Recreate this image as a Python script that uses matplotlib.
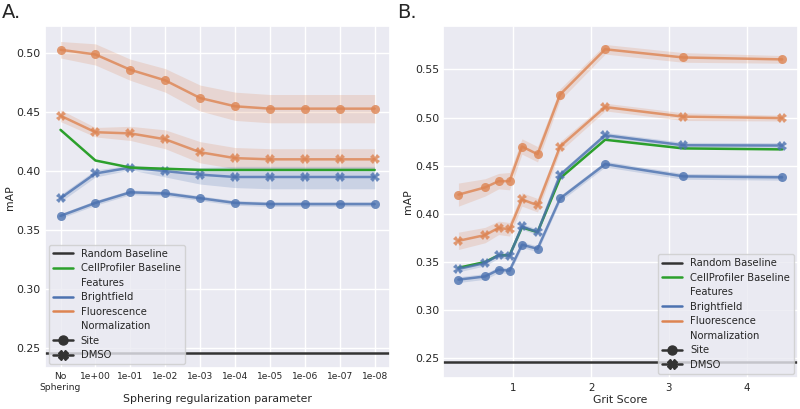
import numpy as np
import matplotlib
matplotlib.use("Agg")
import matplotlib.pyplot as plt
from matplotlib.lines import Line2D
import seaborn as sns

sns.set_theme(style="darkgrid")
plt.rcParams['font.family'] = ['DejaVu Sans']
plt.rcParams['font.size'] = 7

BLUE = "#4C72B0"
ORANGE = "#DD8452"
GREEN = "#2ca02c"
DARK = "#333333"

RANDOM_BASELINE = 0.2458

# --- panel A: sphering regularization ---
sph_labels = ["No\nSphering", "1e+00", "1e-01", "1e-02", "1e-03",
              "1e-04", "1e-05", "1e-06", "1e-07", "1e-08"]
sph_x = np.arange(len(sph_labels))

a_fluo_site = [0.503, 0.499, 0.486, 0.477, 0.462, 0.455, 0.453, 0.453, 0.453, 0.453]
a_fluo_site_ci = [0.007, 0.009, 0.009, 0.010, 0.011, 0.012, 0.012, 0.012, 0.012, 0.012]
a_fluo_dmso = [0.447, 0.433, 0.432, 0.427, 0.416, 0.411, 0.410, 0.410, 0.410, 0.410]
a_fluo_dmso_ci = [0.005, 0.004, 0.006, 0.008, 0.009, 0.009, 0.009, 0.009, 0.009, 0.009]
a_cp = [0.435, 0.409, 0.403, 0.402, 0.401, 0.401, 0.401, 0.401, 0.401, 0.401]
a_bf_dmso = [0.377, 0.398, 0.403, 0.400, 0.397, 0.395, 0.395, 0.395, 0.395, 0.395]
a_bf_dmso_lo = [0.374, 0.395, 0.401, 0.395, 0.389, 0.386, 0.385, 0.385, 0.385, 0.385]
a_bf_dmso_hi = [0.380, 0.401, 0.405, 0.403, 0.403, 0.404, 0.404, 0.404, 0.404, 0.404]
a_bf_site = [0.362, 0.373, 0.382, 0.381, 0.377, 0.373, 0.372, 0.372, 0.372, 0.372]
a_bf_site_ci = [0.002, 0.002, 0.002, 0.002, 0.002, 0.002, 0.002, 0.002, 0.002, 0.002]

# --- panel B: grit score ---
grit = [0.293, 0.636, 0.81, 0.95, 1.11, 1.31, 1.60, 2.18, 3.185, 4.457]

b_fluo_site = [0.420, 0.4275, 0.434, 0.434, 0.470, 0.462, 0.524, 0.571, 0.5625, 0.5605]
b_fluo_site_ci = [0.012, 0.009, 0.008, 0.009, 0.008, 0.008, 0.006, 0.005, 0.005, 0.004]
b_fluo_dmso = [0.372, 0.378, 0.3855, 0.384, 0.415, 0.409, 0.470, 0.511, 0.501, 0.4995]
b_fluo_dmso_ci = [0.009, 0.008, 0.007, 0.007, 0.007, 0.007, 0.005, 0.004, 0.004, 0.003]
b_cp = [0.344, 0.350, 0.357, 0.357, 0.386, 0.381, 0.437, 0.477, 0.468, 0.467]
b_bf_dmso = [0.3428, 0.349, 0.357, 0.3565, 0.387, 0.381, 0.4405, 0.4817, 0.4713, 0.471]
b_bf_dmso_ci = [0.003, 0.003, 0.003, 0.003, 0.003, 0.003, 0.003, 0.003, 0.003, 0.003]
b_bf_site = [0.3317, 0.335, 0.342, 0.341, 0.368, 0.3637, 0.416, 0.4517, 0.439, 0.438]
b_bf_site_ci = [0.003, 0.003, 0.003, 0.003, 0.003, 0.003, 0.003, 0.003, 0.003, 0.003]

LW = 1.8


def draw_series(ax, x, y, lo, hi, color, marker):
    ax.fill_between(x, lo, hi, color=color, alpha=0.2, linewidth=0)
    ax.plot(x, y, color=color, alpha=0.8, lw=LW, marker=marker,
            markersize=6.5 if marker == "o" else 7, markeredgewidth=0)


def sym(y, ci):
    y = np.array(y)
    ci = np.array(ci)
    return y - ci, y + ci


def add_legend(ax, loc):
    blank = Line2D([], [], color="none")
    handles = [
        Line2D([], [], color=DARK, lw=LW),
        Line2D([], [], color=GREEN, lw=LW),
        blank,
        Line2D([], [], color=BLUE, lw=LW),
        Line2D([], [], color=ORANGE, lw=LW),
        blank,
        Line2D([], [], color=DARK, lw=LW, marker="o", markersize=6.5),
        Line2D([], [], color=DARK, lw=LW, marker="X", markersize=7),
    ]
    labels = ["Random Baseline", "CellProfiler Baseline", "Features",
              "Brightfield", "Fluorescence", "Normalization", "Site", "DMSO"]
    ax.legend(handles, labels, loc=loc, fontsize=7.2, labelspacing=0.45,
              borderaxespad=0.4)


fig = plt.figure(figsize=(8, 4.09), dpi=100)
axA = fig.add_axes([0.056, 0.100, 0.432, 0.836])
axB = fig.add_axes([0.554, 0.076, 0.4435, 0.860])

# panel A
lo, hi = sym(a_fluo_site, a_fluo_site_ci)
draw_series(axA, sph_x, a_fluo_site, lo, hi, ORANGE, "o")
lo, hi = sym(a_fluo_dmso, a_fluo_dmso_ci)
draw_series(axA, sph_x, a_fluo_dmso, lo, hi, ORANGE, "X")
draw_series(axA, sph_x, a_bf_dmso, a_bf_dmso_lo, a_bf_dmso_hi, BLUE, "X")
lo, hi = sym(a_bf_site, a_bf_site_ci)
draw_series(axA, sph_x, a_bf_site, lo, hi, BLUE, "o")
axA.plot(sph_x, a_cp, color=GREEN, lw=LW)
axA.axhline(RANDOM_BASELINE, color=DARK, lw=LW)
axA.set_xticks(sph_x)
axA.set_xticklabels(sph_labels, linespacing=1.2)
axA.set_xlabel("Sphering regularization parameter", fontsize=7.8, labelpad=2)
axA.set_ylabel("mAP", fontsize=7.8, labelpad=1)
axA.set_yticks([0.25, 0.30, 0.35, 0.40, 0.45, 0.50])
axA.set_xlim(-0.45, 9.45)
axA.set_ylim(0.2328, 0.523)
axA.tick_params(axis="x", labelsize=6.6, pad=3)
axA.tick_params(axis="y", labelsize=7.8, pad=3)
add_legend(axA, "lower left")

# panel B
lo, hi = sym(b_fluo_site, b_fluo_site_ci)
draw_series(axB, grit, b_fluo_site, lo, hi, ORANGE, "o")
lo, hi = sym(b_fluo_dmso, b_fluo_dmso_ci)
draw_series(axB, grit, b_fluo_dmso, lo, hi, ORANGE, "X")
axB.plot(grit, b_cp, color=GREEN, lw=LW)
lo, hi = sym(b_bf_dmso, b_bf_dmso_ci)
draw_series(axB, grit, b_bf_dmso, lo, hi, BLUE, "X")
lo, hi = sym(b_bf_site, b_bf_site_ci)
draw_series(axB, grit, b_bf_site, lo, hi, BLUE, "o")
axB.axhline(RANDOM_BASELINE, color=DARK, lw=LW)
axB.set_xticks([1, 2, 3, 4])
axB.set_yticks([0.25, 0.30, 0.35, 0.40, 0.45, 0.50, 0.55])
axB.set_xlabel("Grit Score", fontsize=7.8, labelpad=1)
axB.set_ylabel("mAP", fontsize=7.8, labelpad=1)
axB.set_xlim(0.097, 4.66)
axB.set_ylim(0.2296, 0.595)
axB.tick_params(axis="x", labelsize=7.4, pad=4)
axB.tick_params(axis="y", labelsize=7.8, pad=3)
add_legend(axB, "lower right")

for ax in (axA, axB):
    ax.tick_params(length=0)

fig.text(0.002, 0.993, "A.", fontsize=14, va="top", ha="left")
fig.text(0.496, 0.993, "B.", fontsize=14, va="top", ha="left")

fig.savefig("out.png", dpi=100)
